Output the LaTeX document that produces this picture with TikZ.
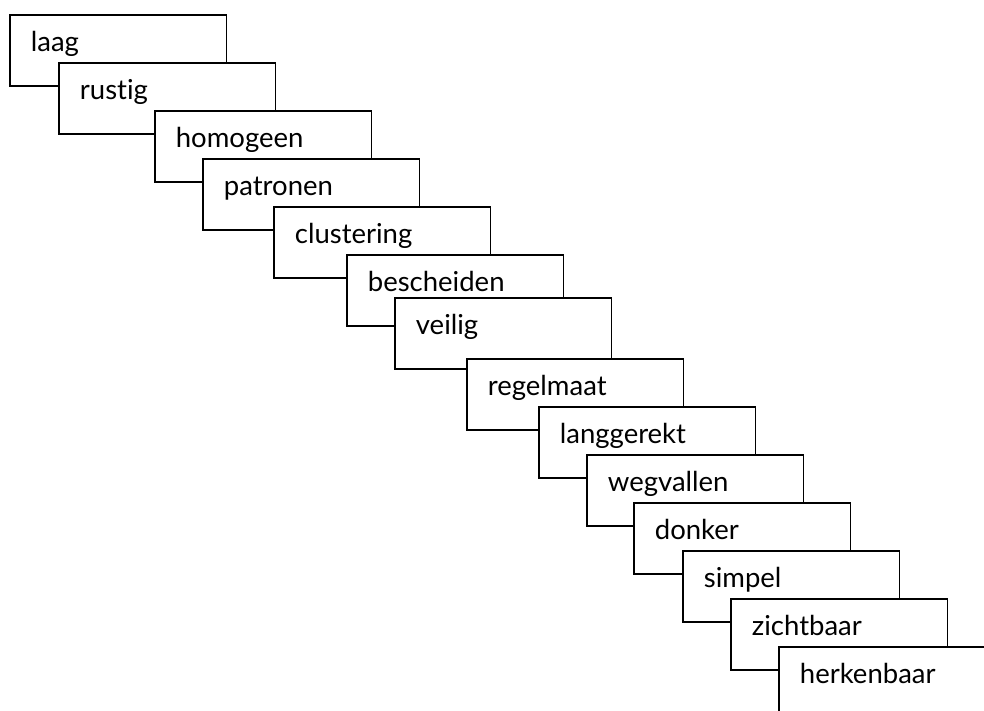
\documentclass[tikz,border=0pt]{standalone}
\usepackage{fontspec}
\setmainfont{Lato}[Ligatures={NoCommon,NoRequired,NoContextual}]
\begin{document}
\begin{tikzpicture}[x=1pt,y=-1pt,
  card/.style={draw, line width=1.8pt, fill=white, anchor=north west,
    inner xsep=21pt, inner ysep=0pt, text width=174.5pt, align=left,
    text height=37pt, text depth=34pt, font=\fontsize{27.5}{32}\selectfont}]
  \useasboundingbox (0,0) rectangle (984,711);
  \clip (0,0) rectangle (984,711);
  \node[card] (c1)  at (9,14)    {laag};
  \node[card] (c2)  at (58,62)   {rustig};
  \node[card] (c3)  at (154,110) {homogeen};
  \node[card] (c4)  at (202,158) {patronen};
  \node[card] (c5)  at (273,206) {clustering};
  \node[card] (c6)  at (346,254) {bescheiden};
  \node[card] (c7)  at (394,297) {veilig};
  \node[card] (c8)  at (466,358) {regelmaat};
  \node[card] (c9)  at (538,406) {langgerekt};
  \node[card] (c10) at (586,454) {wegvallen};
  \node[card] (c11) at (633,502) {donker};
  \node[card] (c12) at (682,550) {simpel};
  \node[card] (c13) at (730,598) {zichtbaar};
  \node[card] (c14) at (778,646) {herkenbaar};
\end{tikzpicture}
\end{document}
